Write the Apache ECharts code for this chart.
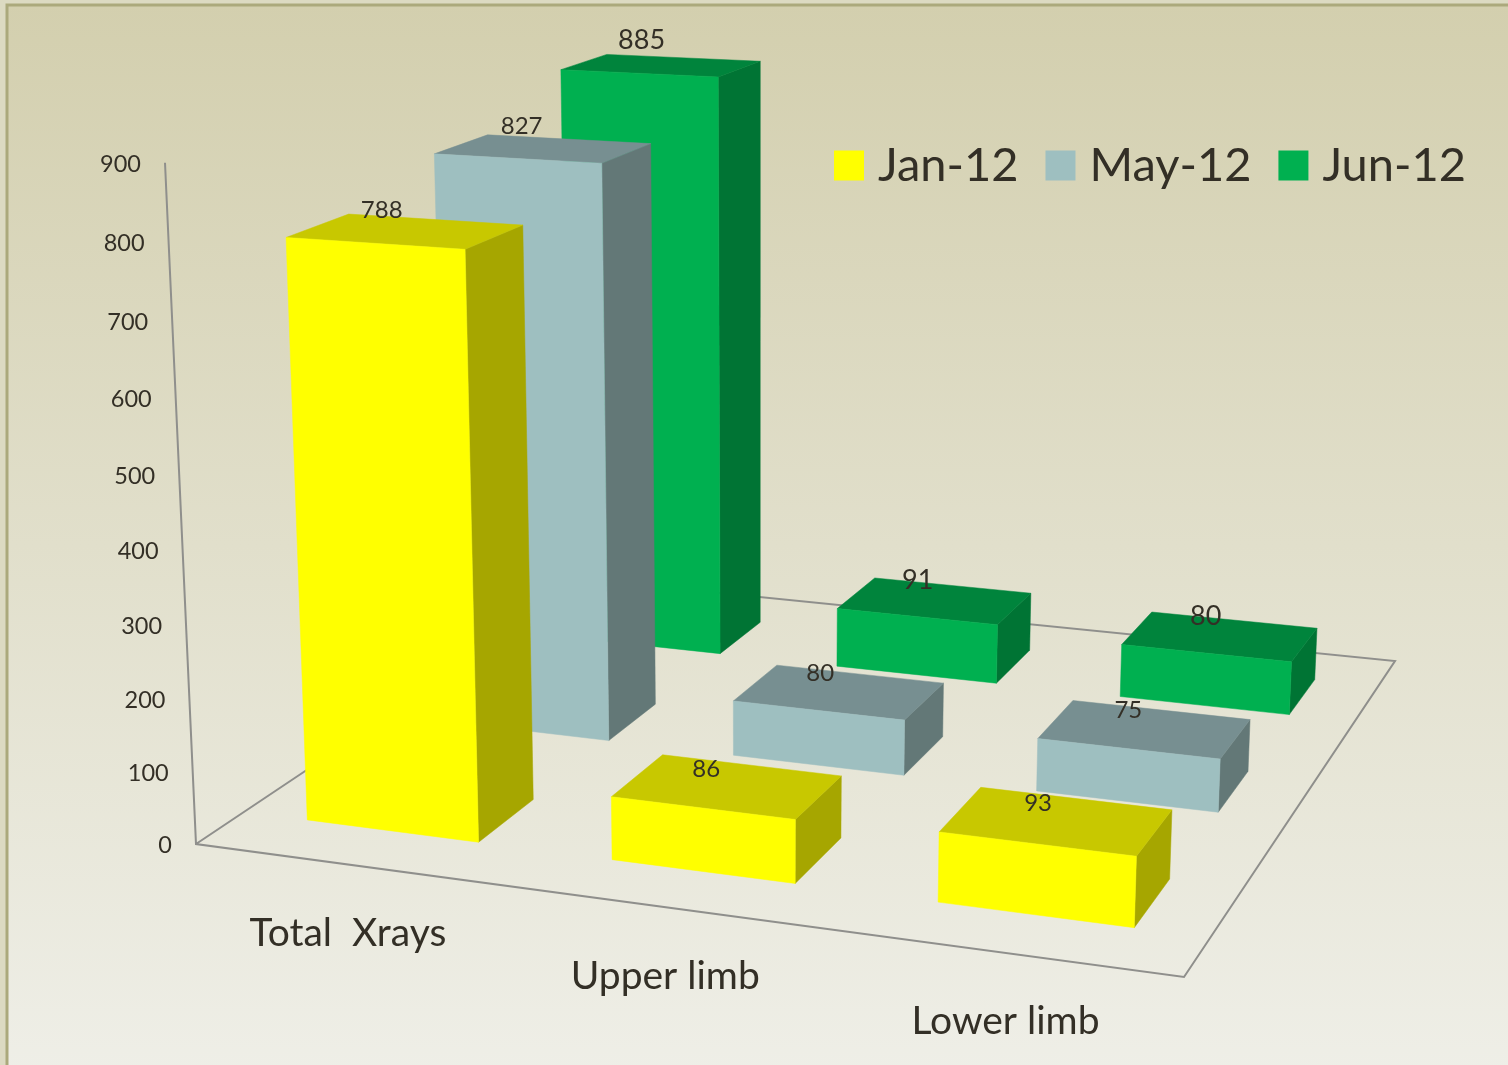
<!DOCTYPE html>
<html>
<head>
<meta charset="utf-8">
<title>Xrays</title>
<style>
  html, body { margin: 0; padding: 0; background: #dcdac2; }
  #chart { width: 1508px; height: 1065px; }
</style>
<script src="https://cdn.jsdelivr.net/npm/echarts@6/dist/echarts.min.js"></script>
</head>
<body>
<div id="chart"></div>
<script>
const categories = ['Total  Xrays', 'Upper limb', 'Lower limb'];
const jan12 = [788, 86, 93];
const may12 = [827, 80, 75];
const jun12 = [885, 91, 80];
const tickLabels = [0, 100, 200, 300, 400, 500, 600, 700, 800, 900];

const fontName = 'Lato';
const textColor = '#332f26';

// floor corners on screen, and where the verticals meet far below the picture
const floorA = [196, 844], floorB = [1184, 977], floorC = [1395, 661], floorD = [591, 580];
const vanish = [760, 13240];
const topShrink = -0.0521; // weight of the vanishing point at value 900

// unit square to floor quad
const dx1 = floorB[0] - floorC[0], dy1 = floorB[1] - floorC[1];
const dx2 = floorD[0] - floorC[0], dy2 = floorD[1] - floorC[1];
const sx = floorA[0] - floorB[0] + floorC[0] - floorD[0];
const sy = floorA[1] - floorB[1] + floorC[1] - floorD[1];
const det = dx1 * dy2 - dx2 * dy1;
const g = (sx * dy2 - dx2 * sy) / det;
const h = (dx1 * sy - sx * dy1) / det;
const a = floorB[0] - floorA[0] + g * floorB[0];
const b = floorD[0] - floorA[0] + h * floorD[0];
const d = floorB[1] - floorA[1] + g * floorB[1];
const e = floorD[1] - floorA[1] + h * floorD[1];

// u along the categories, v into the depth, frac = value / axis max
function project(u, v, frac) {
  const t = topShrink * frac;
  const w = g * u + h * v + 1 + t;
  return [
    (a * u + b * v + floorA[0] + t * vanish[0]) / w,
    (d * u + e * v + floorA[1] + t * vanish[1]) / w
  ];
}

function poly(points, color) {
  return { type: 'polygon', shape: { points: points }, style: { fill: color, stroke: color, lineWidth: 0.5 } };
}

function label(text, pos, size, align) {
  return {
    type: 'text',
    z2: 10,
    style: {
      text: String(text),
      x: pos[0],
      y: pos[1],
      fontFamily: fontName,
      fontSize: size,
      fill: textColor,
      align: align || 'center',
      verticalAlign: 'middle'
    }
  };
}

// one 3D box per data item, row = position in depth
function boxSeries(name, values, row, colors, labelSize, labelShift) {
  return {
    type: 'custom',
    name: name,
    z: 5 - row,
    itemStyle: { color: colors.front },
    data: values.map((v, i) => [i, v]),
    encode: { x: 0, y: 1 },
    renderItem: function (params, api) {
      const cs = params.coordSys;
      const foot = api.coord([api.value(0), 0]);
      const head = api.coord([api.value(0), api.value(1)]);
      const u = (foot[0] - cs.x) / cs.width;
      const frac = (foot[1] - head[1]) / cs.height;
      const u0 = u - 0.095, u1 = u + 0.095;
      const vMid = (row + 0.5) / 3;
      const v0 = vMid - 0.0667, v1 = vMid + 0.0667;
      const fl = project(u0, v0, frac), fr = project(u1, v0, frac);
      const bl = project(u0, v1, frac), br = project(u1, v1, frac);
      const flo = project(u0, v0, 0), fro = project(u1, v0, 0), bro = project(u1, v1, 0);
      const mid = project(u, vMid, frac);
      const labelPos = [mid[0] + labelShift[0] + (u - 0.5) * 8, mid[1] + labelShift[1] - 5 * frac];
      return {
        type: 'group',
        children: [
          poly([fr, br, bro, fro], colors.side),
          poly([fl, fr, br, bl], colors.top),
          poly([fl, fr, fro, flo], colors.front),
          label(api.value(1), labelPos, labelSize)
        ]
      };
    }
  };
}

let myChart = echarts.init(document.getElementById('chart'));
let option = {
  animation: false,
  graphic: [
    {
      type: 'rect',
      z: -10,
      shape: { x: 7, y: 5, width: 1520, height: 1080 },
      style: {
        stroke: '#aba97c',
        lineWidth: 3,
        fill: {
          type: 'linear', x: 0, y: 0, x2: 0, y2: 1, global: false,
          colorStops: [
            { offset: 0, color: '#d3cfae' },
            { offset: 0.5, color: '#e1dfcb' },
            { offset: 1, color: '#efefe8' }
          ]
        }
      }
    }
  ],
  grid: { left: 0, top: 0, right: 0, bottom: 0 },
  xAxis: { type: 'category', data: categories, show: false },
  yAxis: { type: 'value', min: 0, max: 900, interval: 100, show: false },
  legend: {
    data: ['Jan-12', 'May-12', 'Jun-12'],
    left: 829,
    top: 137,
    icon: 'rect',
    itemWidth: 30,
    itemHeight: 30,
    itemGap: 27,
    selectedMode: false,
    textStyle: { fontFamily: fontName, fontSize: 47, color: textColor, padding: [0, 0, 0, 9] }
  },
  series: [
    {
      // floor frame and value axis, tick labels hang on it
      type: 'custom',
      name: 'axis',
      z: 1,
      silent: true,
      data: tickLabels.map(t => [0, t]),
      encode: { x: 0, y: 1 },
      renderItem: function (params, api) {
        const cs = params.coordSys;
        const frac = (cs.y + cs.height - api.coord([0, api.value(1)])[1]) / cs.height;
        const pos = project(0, 0, frac);
        const children = [label(api.value(1), [pos[0] - 24, pos[1] + 1.5], 23.5, 'right')];
        if (params.dataIndex === 0) {
          children.push({
            type: 'polyline',
            shape: { points: [project(0, 0, 1), floorA, floorB, floorC, floorD, floorA] },
            style: { stroke: '#8f8f8c', lineWidth: 2, fill: null }
          });
        }
        return { type: 'group', children: children };
      }
    },
    {
      // category names below the front edge of the floor
      type: 'custom',
      name: 'categories',
      z: 1,
      silent: true,
      data: categories.map((c, i) => [i, 0]),
      encode: { x: 0, y: 1 },
      renderItem: function (params, api) {
        const cs = params.coordSys;
        const u = (api.coord([api.value(0), 0])[0] - cs.x) / cs.width;
        const pos = project(u, 0, 0);
        return label(categories[api.value(0)], [pos[0] + 1, pos[1] + 69], 39);
      }
    },
    boxSeries('Jan-12', jan12, 0, { front: '#ffff00', top: '#c8c800', side: '#a6a600' }, 24, [-21, -17]),
    boxSeries('May-12', may12, 1, { front: '#9ebfc0', top: '#778f91', side: '#637877' }, 24, [-19, -18]),
    boxSeries('Jun-12', jun12, 2, { front: '#00b050', top: '#00843c', side: '#007434' }, 27, [-17, -20])
  ]
};
myChart.setOption(option);
</script>
</body>
</html>
